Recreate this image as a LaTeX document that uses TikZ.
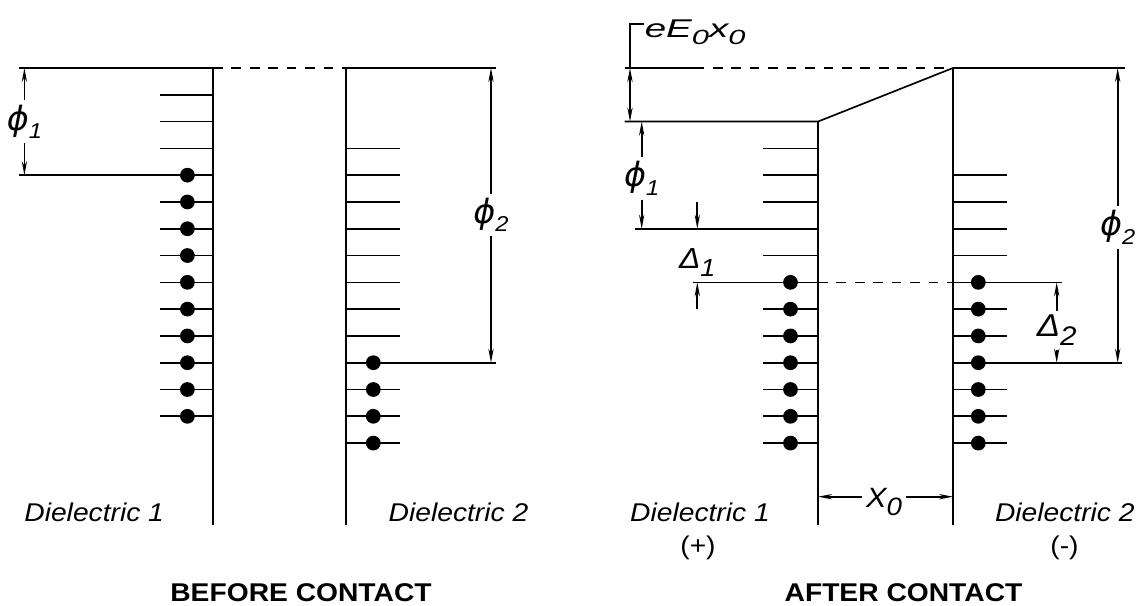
\documentclass[tikz,border=0pt]{standalone}
\usepackage{fontspec}
\setmainfont{Liberation Sans}[FakeStretch=1.1]
\newfontfamily\widesf{Liberation Sans}[FakeStretch=1.5]
\newfontfamily\phisf{DejaVu Sans}
\usetikzlibrary{arrows.meta}
\newcommand{\lowidx}[2][0.72]{\raisebox{-0.28em}{\scalebox{#1}{#2}}}
\newcommand{\phisym}{{\phisf\itshape\fontsize{19}{22}\selectfont ϕ}}

\begin{document}
\begin{tikzpicture}[x=0.02cm, y=-0.536cm, line width=0.95pt,
    >={Stealth[length=8pt,width=3pt]},
    bandgap/.style={dash pattern=on 5.5pt off 5pt},
    caption/.style={font=\fontsize{14.6}{17}\selectfont\itshape, anchor=base, inner sep=0pt},
    heading/.style={font=\fontsize{14.6}{17}\selectfont\bfseries, anchor=base, inner sep=0pt},
    sym/.style={font=\fontsize{17}{20}\selectfont\itshape, inner sep=2pt}]
  \useasboundingbox (0,-3.537) rectangle (1137,19.075);
  % before contact
  \draw (18.6,-1) -- (213,-1);
  \draw[bandgap] (213,-1) -- (346,-1);
  \draw (346,-1) -- (496,-1);
  \draw (213,-1) -- (213,16.05);
  \draw (346,-1) -- (346,16.05);
  \foreach \k in {0,...,12} \draw (159.5,\k) -- (213,\k);
  \foreach \k in {3,...,12} \fill (187.4,\k) circle (4.2pt);
  \foreach \k in {2,...,13} \draw (346,\k) -- (399.5,\k);
  \foreach \k in {10,...,13} \fill (373.3,\k) circle (4.2pt);
  \draw (18.6,3) -- (213,3);
  \draw (346,10) -- (496,10);
  \node[sym] (phiA) at (24.4,1) {\phisym\lowidx{1}};
  \draw[->] (phiA) -- (phiA |- 0,-1);
  \draw[->] (phiA) -- (phiA |- 0,3);
  \node[sym] (phiB) at (491,4.49) {\phisym\lowidx{2}};
  \draw[->] (phiB) -- (phiB |- 0,-1);
  \draw[->] (phiB) -- (phiB |- 0,10);
  \node[caption] (diA) at (94.2,15.93) {Dielectric 1};
  \node[caption] (diB) at (458.5,15.93) {Dielectric 2};
  \node[heading] (before) at (301,18.93) {BEFORE CONTACT};
  % after contact
  \draw (624.7,-1) -- (694.4,-1);
  \draw[bandgap] (694.4,-1) -- (953,-1);
  \draw (953,-1) -- (1125,-1);
  \draw (624.7,1) -- (818,1) -- (953,-1);
  \draw (818,1) -- (818,16.05);
  \draw (953,-1) -- (953,16.05);
  \foreach \k in {2,...,13} \draw (763,\k) -- (818,\k);
  \foreach \k in {7,...,13} \fill (790.5,\k) circle (4.2pt);
  \foreach \k in {3,...,13} \draw (953,\k) -- (1006.7,\k);
  \foreach \k in {7,...,13} \fill (978.3,\k) circle (4.2pt);
  \draw (635,5) -- (818,5);
  \draw (692.7,7) -- (818,7);
  \draw[bandgap] (818,7) -- (953,7);
  \draw (953,7) -- (1061.7,7);
  \draw (953,10) -- (1121.7,10);
  \node[font=\fontsize{14.6}{17}\selectfont\widesf\itshape, anchor=base west, inner sep=0pt] (eEx) at (644,-2.146) {eE\lowidx[0.8]{0}x\lowidx[0.8]{0}};
  \draw (eEx.west |- 0,-2.642) -| (630,-1);
  \draw[<->] (630,-1) -- (630,1);
  \node[sym] (phiC) at (641.7,3.12) {\phisym\lowidx{1}};
  \draw[->] (phiC) -- (phiC |- 0,1);
  \draw[->] (phiC) -- (phiC |- 0,5);
  \node[sym, font=\fontsize{16.5}{19}\selectfont\itshape, anchor=base] (delA) at (697.3,6.47) {Δ\lowidx[0.85]{1}};
  \draw[->] (delA |- 0,4) -- (delA |- 0,5);
  \draw[->] (delA |- 0,8) -- (delA |- 0,7);
  \node[sym, font=\fontsize{18}{21}\selectfont\itshape, anchor=base] (delB) at (1056.7,9.03) {Δ\lowidx[0.85]{2}};
  \draw[->] (delB) -- (delB |- 0,7);
  \draw[->] (delB) -- (delB |- 0,10);
  \node[sym] (phiD) at (1117.7,4.95) {\phisym\lowidx{2}};
  \draw[->] (phiD) -- (phiD |- 0,-1);
  \draw[->] (phiD) -- (phiD |- 0,10);
  \node[sym, font=\fontsize{15.9}{18}\selectfont\itshape, anchor=base] (xlbl) at (884,15.42) {X\lowidx[0.9]{0}};
  \draw[->] (xlbl.west |- 0,15) -- (818,15);
  \draw[->] (xlbl.east |- 0,15) -- (953,15);
  \node[caption] (diC) at (700,15.93) {Dielectric 1};
  \node[caption, font=\fontsize{14.6}{17}\selectfont] (sgnC) at (698,17.16) {(+)};
  \node[caption] (diD) at (1064.8,15.93) {Dielectric 2};
  \node[caption, font=\fontsize{14.6}{17}\selectfont] (sgnD) at (1064.5,17.16) {(-)};
  \node[heading] (after) at (903.5,18.93) {AFTER CONTACT};
\end{tikzpicture}
\end{document}
